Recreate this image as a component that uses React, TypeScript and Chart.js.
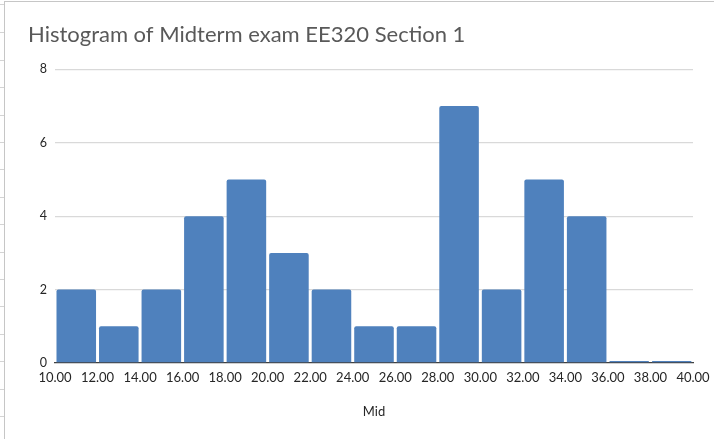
import React, { useEffect, useRef } from "react";
import { Chart, registerables } from "chart.js";

Chart.register(...registerables);

const binStarts = [10, 12, 14, 16, 18, 20, 22, 24, 26, 28, 30, 32, 34, 36, 38];
const counts = [2, 1, 2, 4, 5, 3, 2, 1, 1, 7, 2, 5, 4, 0, 0];
const binWidth = 2;
const xMin = 10;
const xMax = 40;
const yTicks = [0, 2, 4, 6, 8];
const titleText = "Histogram of Midterm exam EE320 Section 1";
const xTitle = "Mid";

export default function App() {
  const ref = useRef<HTMLCanvasElement | null>(null);

  useEffect(() => {
    document.body.style.margin = "0";
    const canvas = ref.current;
    if (!canvas) return;
    const chart = new Chart(canvas, {
      type: "bar",
      data: {
        datasets: [
          {
            label: xTitle,
            data: binStarts.map((s, i) => ({ x: s + binWidth / 2, y: counts[i] })),
            backgroundColor: "#4f81bd",
            borderWidth: 0,
            borderRadius: 2,
            borderSkipped: "bottom",
            minBarLength: 2,
            categoryPercentage: 1,
            barPercentage: 0.93,
          },
        ],
      },
      options: {
        responsive: false,
        animation: false,
        layout: { padding: { left: 23, right: 21, top: 0, bottom: 0 } },
        plugins: {
          legend: { display: false },
          tooltip: { enabled: false },
          title: {
            display: true,
            text: titleText,
            align: "start",
            color: "#595959",
            font: { family: "Lato", size: 22, weight: "normal" },
            padding: { top: 20, bottom: 21 },
          },
        },
        scales: {
          x: {
            type: "linear",
            min: xMin,
            max: xMax,
            offset: false,
            afterFit: (s: any) => {
              s.height = 76;
              s.paddingRight = 0;
            },
            grid: { display: false, drawTicks: false },
            border: { display: true, color: "#404040", width: 1.3 },
            ticks: {
              stepSize: binWidth,
              autoSkip: false,
              maxRotation: 0,
              padding: 7,
              color: "#262626",
              font: { family: "Lato", size: 13 },
              callback: (v: any) => Number(v).toFixed(2),
            },
            title: {
              display: true,
              text: xTitle,
              color: "#262626",
              font: { family: "Lato", size: 13 },
              padding: { top: 0, bottom: 19 },
            },
          },
          y: {
            min: yTicks[0],
            max: yTicks[yTicks.length - 1],
            afterFit: (s: any) => {
              s.width = 27;
            },
            afterBuildTicks: (s: any) => {
              s.ticks = yTicks.map((v) => ({ value: v }));
            },
            grid: {
              drawTicks: false,
              color: (ctx: any) => (ctx.tick && ctx.tick.value === 0 ? "rgba(0,0,0,0)" : "#d9d9d9"),
              lineWidth: 1.3,
            },
            border: { display: false },
            ticks: {
              padding: 8,
              color: "#262626",
              font: { family: "Lato", size: 12.5 },
            },
          },
        },
      },
    });
    return () => chart.destroy();
  }, []);

  return (
    <div style={{ position: "fixed", left: 0, top: 0, width: 714, height: 439, background: "#ffffff", overflow: "hidden" }}>
      <div
        style={{
          position: "absolute",
          left: 0,
          top: 0,
          width: 4,
          height: 439,
          background:
            "repeating-linear-gradient(to bottom, transparent 0px, transparent 26.4px, #d4d4d4 26.4px, #d4d4d4 27.4px)",
          backgroundPosition: "0 6px",
        }}
      />
      <div
        style={{
          position: "absolute",
          left: 4,
          top: 1,
          width: 710,
          height: 438,
          borderLeft: "1px solid #c6c6c6",
          borderTop: "1px solid #c6c6c6",
          boxSizing: "border-box",
        }}
      >
        <canvas ref={ref} width={709} height={437} style={{ display: "block" }} />
      </div>
    </div>
  );
}
